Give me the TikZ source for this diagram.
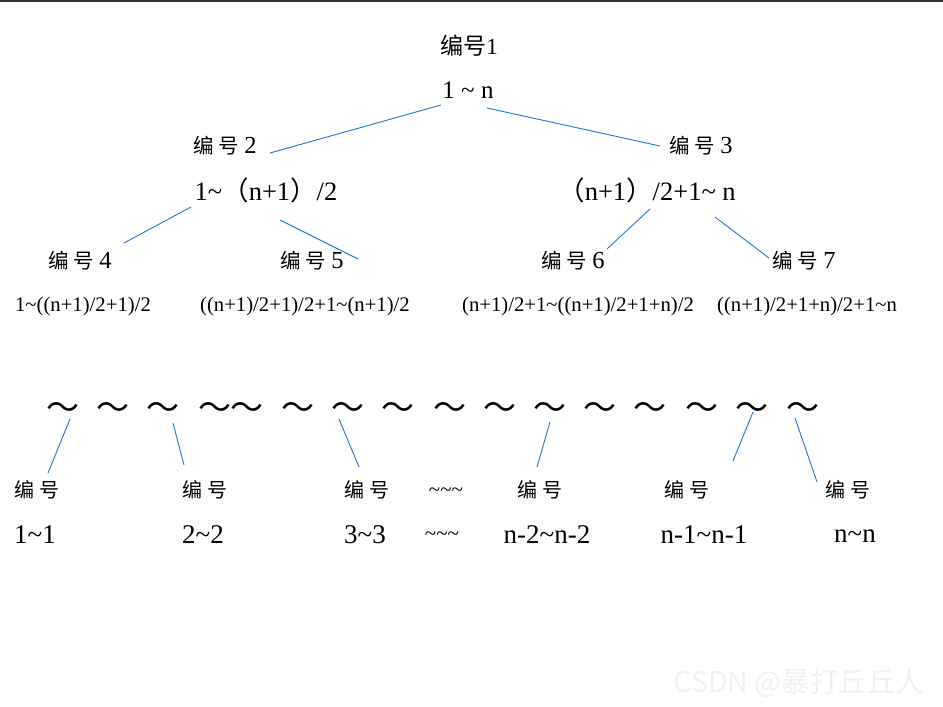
\documentclass[tikz,border=0pt]{standalone}
\usepackage{fontspec}
\setmainfont{Liberation Serif}
\newfontfamily\cjk{Noto Sans CJK SC}
\definecolor{ln}{RGB}{30,120,215}
\newcommand\tld{{\char"7E\relax}}
\newcommand\bh{{\cjk\fontsize{20.5}{20.5}\selectfont 编\hspace{5pt}号\hspace{5pt}}}
\newcommand\bb{{\cjk 编\hspace{5pt}号}}
\begin{document}
\begin{tikzpicture}[x=1pt,y=-1pt,
  t/.style={inner sep=0pt, anchor=center},
  top/.style={t, font=\fontsize{25}{25}\selectfont},
  big/.style={t, font=\fontsize{24.5}{24.5}\selectfont},
  rng/.style={t, font=\fontsize{26.5}{26.5}\selectfont},
  mid/.style={t, font=\fontsize{20.7}{20.7}\selectfont},
  val/.style={t, font=\fontsize{27}{27}\selectfont},
  bot/.style={t, font=\cjk\fontsize{20}{20}\selectfont},
  wave/.style={t, font=\cjk\fontsize{33}{33}\selectfont},
  small/.style={t, font=\fontsize{21}{21}\selectfont},
  conn/.style={draw=ln, line width=0.9pt}]
\useasboundingbox (0,0) rectangle (943,707);
\fill[black!80] (0,0) rectangle (943,1.5);

% level 1
\node[t, font=\fontsize{23}{23}\selectfont] (h1) at (469,46) {{\cjk 编号}1};
\node[top] (r1) at (468,90) {1 \tld\ n};
% level 2
\node[big] (h2) at (225,146) {\bh2};
\node[rng] (r2) at (266,190) {1\tld{\cjk （}n+1{\cjk ）}/2};
\node[big] (h3) at (701,146) {\bh3};
\node[rng] (r3) at (647,190) {{\cjk （}n+1{\cjk ）}/2+1\tld\ n};
% level 3
\node[big] (h4) at (80,261) {\bh4};
\node[big] (h5) at (312,261) {\bh5};
\node[big] (h6) at (573,261) {\bh6};
\node[big] (h7) at (804,261) {\bh7};
\node[mid] (r4) at (83,307) {1\tld((n+1)/2+1)/2};
\node[mid] (r5) at (305,307) {((n+1)/2+1)/2+1\tld(n+1)/2};
\node[mid] (r6) at (578,307) {(n+1)/2+1\tld((n+1)/2+1+n)/2};
\node[mid] (r7) at (807,307) {((n+1)/2+1+n)/2+1\tld n};

% waves
\foreach \x [count=\i] in {63,113,163,215,247,298,348,398,450,500,550,600,650,702,752,803}
  \node[wave] (w\i) at (\x,411) {～};

% bottom labels
\node[bot] (b1) at (37,490) {\bb};
\node[bot] (b2) at (205,490) {\bb};
\node[bot] (b3) at (367,490) {\bb};
\node[bot] (b4) at (540,490) {\bb};
\node[bot] (b5) at (687,490) {\bb};
\node[bot] (b6) at (848,490) {\bb};
\node[small] (d1) at (446,492) {\tld\tld\tld};
\node[small] (d2) at (442,536) {\tld\tld\tld};
\node[val] (v1) at (35,535) {1\tld1};
\node[val] (v2) at (203,535) {2\tld2};
\node[val] (v3) at (365,535) {3\tld3};
\node[val] (v4) at (547,535) {n-2\tld n-2};
\node[val] (v5) at (704,535) {n-1\tld n-1};
\node[val] (v6) at (855,536) {n\tld n};

% watermark
\node[t, text=black!6, font=\cjk\fontsize{28.5}{28.5}\selectfont] (wm) at (799,683) {CSDN @暴打丘丘人};

% connector end points
\coordinate (a1) at (441,105); \coordinate (a2) at (270,153);
\coordinate (a3) at (487,108); \coordinate (a4) at (660,146);
\coordinate (a5) at (191,207); \coordinate (a6) at (124,243);
\coordinate (a7) at (280,220); \coordinate (a8) at (358,259);
\coordinate (a9) at (650,209); \coordinate (a10) at (607,249);
\coordinate (a11) at (715,217); \coordinate (a12) at (769,258);
\coordinate (c1) at (70,419);  \coordinate (c2) at (48,473);
\coordinate (c3) at (173,423); \coordinate (c4) at (184,465);
\coordinate (c5) at (339,419); \coordinate (c6) at (359,467);
\coordinate (c7) at (550,422); \coordinate (c8) at (537,467);
\coordinate (c9) at (753,412); \coordinate (c10) at (733,461);
\coordinate (c11) at (795,418); \coordinate (c12) at (817,482);

\draw[conn] (a1) -- (a2);
\draw[conn] (a3) -- (a4);
\draw[conn] (a5) -- (a6);
\draw[conn] (a7) -- (a8);
\draw[conn] (a9) -- (a10);
\draw[conn] (a11) -- (a12);
\draw[conn] (c1) -- (c2);
\draw[conn] (c3) -- (c4);
\draw[conn] (c5) -- (c6);
\draw[conn] (c7) -- (c8);
\draw[conn] (c9) -- (c10);
\draw[conn] (c11) -- (c12);
\end{tikzpicture}
\end{document}
